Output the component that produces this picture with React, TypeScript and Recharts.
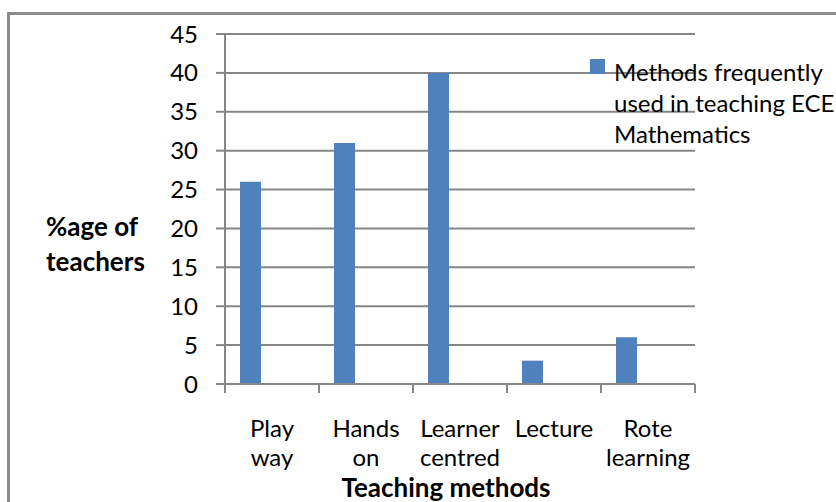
import React from "react";
import { BarChart, Bar, XAxis, YAxis, CartesianGrid, Label } from "recharts";

const methods = ["Play way", "Hands on", "Learner centred", "Lecture", "Rote learning"];
const teacherPercent = [26, 31, 40, 3, 6];
const yTicks = [0, 5, 10, 15, 20, 25, 30, 35, 40, 45];
const seriesName = "Methods frequently used in teaching ECE Mathematics";

const data = methods.map((m, i) => ({ method: m, value: teacherPercent[i] }));

const FONT = "Lato, 'Liberation Sans', sans-serif";
const GRID = "#868686";
const BLUE = "#4F81BD";

function MethodTick(props: any) {
  const { x, y, payload, index } = props;
  const half = payload && payload.offset ? payload.offset : 47;
  const words = String(payload.value).split(" ");
  return (
    <g>
      <line x1={x - half} y1={y - 8} x2={x - half} y2={y + 1} stroke={GRID} strokeWidth={2} />
      {index === methods.length - 1 && (
        <line x1={x + half} y1={y - 8} x2={x + half} y2={y + 1} stroke={GRID} strokeWidth={2} />
      )}
      {words.map((w, i) => (
        <text key={i} x={x} y={y + 45 + i * 29} textAnchor="middle" fontSize={24} fontFamily={FONT} fill="#000">
          {w}
        </text>
      ))}
    </g>
  );
}

function YTitle() {
  return (
    <g fontFamily={FONT} fontSize={26} fontWeight="bold" fill="#000">
      <text x={46} y={236}>%age of</text>
      <text x={46} y={271}>teachers</text>
    </g>
  );
}

export default function App() {
  return (
    <div style={{ position: "absolute", left: 0, top: 0, width: 836, height: 502, background: "#fff", overflow: "hidden" }}>
      <div style={{ position: "absolute", left: 7, top: 12, right: -10, bottom: -10, borderTop: "3px solid #8c8c8c", borderLeft: "3px solid #8c8c8c" }} />
      <div style={{ position: "absolute", left: 0, top: 0 }}>
        <BarChart
          width={836}
          height={502}
          data={data}
          margin={{ top: 34, right: 141, bottom: 0, left: 0 }}
          barCategoryGap={15}
          barGap={0}
        >
          <CartesianGrid horizontal vertical={false} stroke={GRID} strokeWidth={2} />
          <XAxis
            dataKey="method"
            height={118}
            axisLine={{ stroke: GRID, strokeWidth: 2 }}
            tickLine={false}
            tick={<MethodTick />}
            interval={0}
          >
            <Label
              content={() => (
                <text x={446} y={497} textAnchor="middle" fontFamily={FONT} fontSize={26} fontWeight="bold" fill="#000">
                  Teaching methods
                </text>
              )}
            />
          </XAxis>
          <YAxis
            width={225}
            domain={[0, 45]}
            ticks={yTicks}
            interval={0}
            axisLine={{ stroke: GRID, strokeWidth: 2 }}
            tickLine={{ stroke: GRID, strokeWidth: 2 }}
            tickSize={9}
            tickMargin={18}
            tick={{ fontSize: 24, fontFamily: FONT, fill: "#000" }}
          >
            <Label content={<YTitle />} />
          </YAxis>
          <Bar dataKey="value" name={seriesName} fill={BLUE} isAnimationActive={false} />
          <Bar dataKey="s2" fill={BLUE} legendType="none" isAnimationActive={false} />
          <Bar dataKey="s3" fill={BLUE} legendType="none" isAnimationActive={false} />
        </BarChart>
      </div>
      <div style={{ position: "absolute", left: 590, top: 56, fontFamily: FONT, fontSize: 24, lineHeight: "31px", color: "#000", display: "flex", alignItems: "flex-start" }}>
        <span style={{ width: 15, height: 15, background: BLUE, marginTop: 3, marginRight: 9, flexShrink: 0 }} />
        <span style={{ width: 222 }}>{seriesName}</span>
      </div>
    </div>
  );
}
